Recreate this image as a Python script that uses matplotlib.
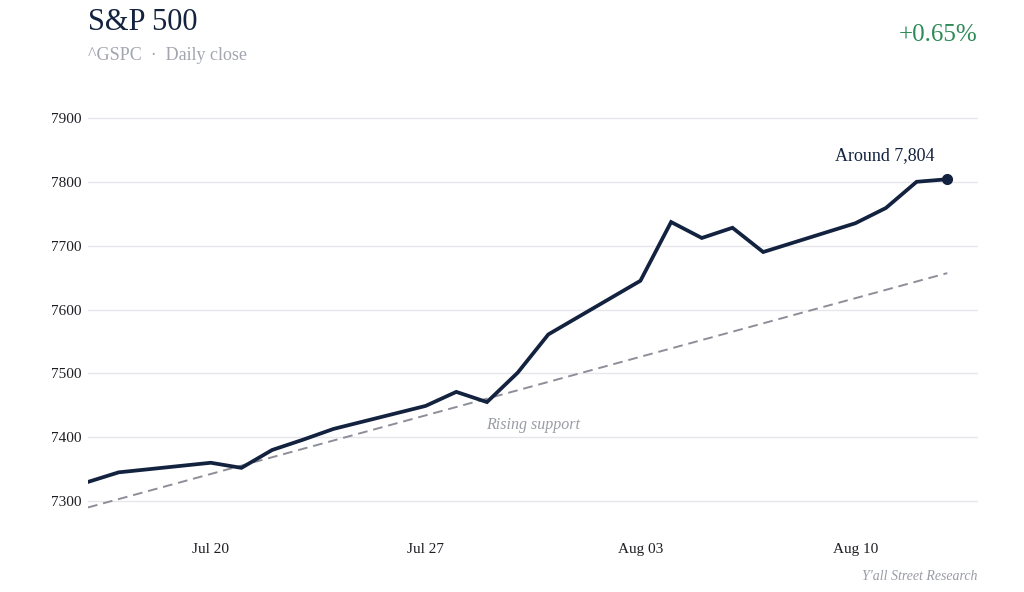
import numpy as np
import pandas as pd
import matplotlib
matplotlib.use("Agg")
import matplotlib.pyplot as plt
import matplotlib.dates as mdates

# daily closes
dates = pd.to_datetime([
    "2026-07-16", "2026-07-17", "2026-07-20", "2026-07-21", "2026-07-22",
    "2026-07-23", "2026-07-24", "2026-07-27", "2026-07-28", "2026-07-29",
    "2026-07-30", "2026-07-31", "2026-08-03", "2026-08-04", "2026-08-05",
    "2026-08-06", "2026-08-07", "2026-08-10", "2026-08-11", "2026-08-12",
    "2026-08-13",
])
closes = [7330, 7345, 7360, 7352, 7380,
          7396, 7413, 7449, 7471, 7455,
          7501, 7561, 7645, 7737, 7712,
          7728, 7690, 7735, 7759, 7800,
          7804]

support_dates = pd.to_datetime(["2026-07-16", "2026-08-13"])
support_vals = [7290, 7657]

y_ticks = [7300, 7400, 7500, 7600, 7700, 7800, 7900]
x_ticks = pd.to_datetime(["2026-07-20", "2026-07-27", "2026-08-03", "2026-08-10"])

navy = "#13223f"
grey = "#9a9ca6"
serif = ["Liberation Serif", "DejaVu Serif"]
plt.rcParams["font.family"] = serif

fig = plt.figure(figsize=(10.24, 5.92), dpi=100)
ax = fig.add_axes([88 / 1024, 1 - 533 / 592, (978 - 88) / 1024, (533 - 86) / 592])

ax.plot(support_dates, support_vals, color="#8e8e99", lw=1.4, ls=(0, (5, 3)), zorder=2)
ax.plot(dates, closes, color=navy, lw=2.7, solid_joinstyle="miter", zorder=3)
ax.plot(dates[-1], closes[-1], "o", color=navy, ms=7, zorder=4)

ax.set_xlim(pd.Timestamp("2026-07-16"), pd.Timestamp("2026-08-14"))
ax.set_ylim(7250, 7950)
ax.set_yticks(y_ticks)
ax.set_xticks(x_ticks)
ax.xaxis.set_major_formatter(mdates.DateFormatter("%b %d"))
ax.grid(axis="y", color="#e6e6ec", lw=1)
ax.set_axisbelow(True)
for s in ax.spines.values():
    s.set_visible(False)
ax.tick_params(length=0, labelsize=11, colors="#1d1d24")
ax.tick_params(axis="x", pad=7)
ax.tick_params(axis="y", pad=5)

ax.annotate("Around 7,804", (dates[-1], closes[-1]), xytext=(-45, 11),
            textcoords="offset points", ha="center", va="bottom",
            fontsize=13, color=navy)
ax.text(pd.Timestamp("2026-07-30 12:00"), 7419, "Rising support", ha="center", va="center",
        fontsize=11.5, style="italic", color=grey)

fig.text(88 / 1024, 1 - 23 / 592, "S&P 500", fontsize=22, color=navy, va="center", ha="left")
fig.text(88 / 1024, 1 - 56 / 592, "^GSPC  ·  Daily close", fontsize=13, color="#a3a6b0",
         va="center", ha="left")
fig.text(978 / 1024, 1 - 35 / 592, "+0.65%", fontsize=18, color="#2e8b57", va="center", ha="right")
fig.text(978 / 1024, 1 - 576 / 592, "Y'all Street Research", fontsize=10, style="italic",
         color=grey, va="center", ha="right")

fig.savefig("out.png", dpi=100, facecolor="white")
